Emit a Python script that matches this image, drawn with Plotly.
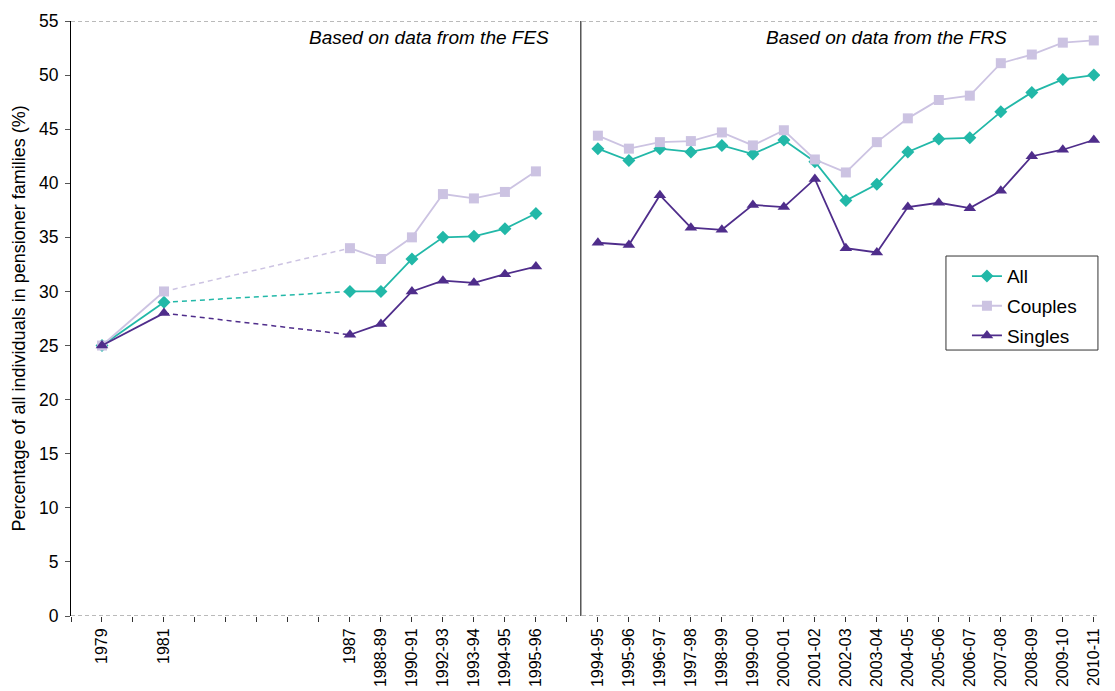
import plotly.graph_objects as go

# axis slots (blank = unlabelled slot)
x_ticks = ["", "1979", "", "1981", "", "", "", "", "", "1987", "1988-89", "1990-91",
           "1992-93", "1993-94", "1994-95", "1995-96", "",
           "1994-95", "1995-96", "1996-97", "1997-98", "1998-99", "1999-00", "2000-01",
           "2001-02", "2002-03", "2003-04", "2004-05", "2005-06", "2006-07", "2007-08",
           "2008-09", "2009-10", "2010-11"]

# FES based figures
fes_periods = ["1979", "1981", "1987", "1988-89", "1990-91", "1992-93", "1993-94", "1994-95", "1995-96"]
fes_all = [25.0, 29.0, 30.0, 30.0, 33.0, 35.0, 35.1, 35.8, 37.2]
fes_couples = [25.0, 30.0, 34.0, 33.0, 35.0, 39.0, 38.6, 39.2, 41.1]
fes_singles = [25.0, 28.0, 26.0, 27.0, 30.0, 31.0, 30.8, 31.6, 32.3]

# FRS based figures
frs_periods = ["1994-95", "1995-96", "1996-97", "1997-98", "1998-99", "1999-00", "2000-01",
               "2001-02", "2002-03", "2003-04", "2004-05", "2005-06", "2006-07", "2007-08",
               "2008-09", "2009-10", "2010-11"]
frs_all = [43.2, 42.1, 43.2, 42.9, 43.5, 42.7, 44.0, 42.0, 38.4, 39.9, 42.9, 44.1, 44.2, 46.6,
           48.4, 49.6, 50.0]
frs_couples = [44.4, 43.2, 43.8, 43.9, 44.7, 43.5, 44.9, 42.2, 41.0, 43.8, 46.0, 47.7, 48.1, 51.1,
               51.9, 53.0, 53.2]
frs_singles = [34.5, 34.3, 38.9, 35.9, 35.7, 38.0, 37.8, 40.4, 34.0, 33.6, 37.8, 38.2, 37.7, 39.3,
               42.5, 43.1, 44.0]

series = [
    ("All", fes_all, frs_all, "#22B8A8", "diamond", 10),
    ("Couples", fes_couples, frs_couples, "#CCC3E2", "square", 10),
    ("Singles", fes_singles, frs_singles, "#4F2D8B", "triangle-up", 11),
]

fes_x = [x_ticks.index(p) for p in fes_periods]
frs_x = [len(x_ticks) - 1 - x_ticks[::-1].index(p) for p in frs_periods]
split = (fes_x[-1] + frs_x[0]) / 2 + 0.45
gap_i = fes_periods.index("1981")
gap_j = fes_periods.index("1987")

fig = go.Figure()
for name, fes, frs, col, sym, ms in series:
    mk = dict(symbol=sym, size=ms, color=col)
    # dashed link over the gap years
    fig.add_trace(go.Scatter(x=[fes_x[gap_i], fes_x[gap_j]], y=[fes[gap_i], fes[gap_j]],
                             mode="lines", line=dict(color=col, width=1.5, dash="5px,4px"),
                             showlegend=False, hoverinfo="skip"))
    fig.add_trace(go.Scatter(x=fes_x[:gap_i + 1], y=fes[:gap_i + 1], mode="lines+markers",
                             line=dict(color=col, width=1.8), marker=mk, showlegend=False))
    fig.add_trace(go.Scatter(x=fes_x[gap_j:], y=fes[gap_j:], mode="lines+markers",
                             line=dict(color=col, width=1.8), marker=mk, showlegend=False))
    fig.add_trace(go.Scatter(x=frs_x, y=frs, mode="lines+markers", name=name, legendgroup=name,
                             line=dict(color=col, width=1.8), marker=mk))

fig.add_shape(type="line", xref="x", yref="y", x0=split, x1=split, y0=0, y1=55,
              line=dict(color="black", width=1))
for yv in [0, 55]:
    fig.add_shape(type="line", xref="paper", yref="y", x0=0, x1=1, y0=yv, y1=yv,
                  line=dict(color="#777777", width=1.2, dash="4px,3px"))
# legend frame
fig.add_shape(type="rect", xref="paper", yref="paper", x0=0.8503, x1=0.998, y0=0.447, y1=0.605,
              line=dict(color="#333333", width=1), fillcolor="rgba(0,0,0,0)")

fig.add_annotation(x=split - 0.95, y=54.6, xref="x", yref="y", xanchor="right", yanchor="top",
                   text="<i>Based on data from the FES</i>", showarrow=False,
                   font=dict(size=19, color="black"))
fig.add_annotation(x=frs_x[-4] + 0.25, y=54.6, xref="x", yref="y", xanchor="right", yanchor="top",
                   text="<i>Based on data from the FRS</i>", showarrow=False,
                   font=dict(size=19, color="black"))
fig.add_annotation(x=0, y=0.5, xref="paper", yref="paper", xshift=-53, xanchor="center",
                   yanchor="middle", textangle=-90,
                   text="Percentage of all individuals in pensioner families (%)",
                   showarrow=False, font=dict(size=18, color="black"))

fig.update_layout(
    width=1115, height=691,
    margin=dict(l=71, r=15, t=21, b=75),
    paper_bgcolor="white", plot_bgcolor="white",
    font=dict(family="Liberation Sans, Arial", color="black"),
    showlegend=True,
    legend=dict(x=0.8707, xanchor="left", y=0.603, yanchor="top",
                borderwidth=0, bgcolor="rgba(0,0,0,0)",
                font=dict(size=19), itemwidth=30, tracegroupgap=2),
    xaxis=dict(range=[0, 33.2], tickmode="array", tickvals=list(range(len(x_ticks))),
               ticktext=x_ticks, tickangle=-90, ticks="outside", ticklen=5,
               tickcolor="#333333", showgrid=False, zeroline=False, showline=False,
               tickfont=dict(size=16), automargin=False),
    yaxis=dict(range=[0, 55], dtick=5, ticks="outside", ticklen=5, tickcolor="#555555",
               showline=True, linecolor="black", linewidth=1, showgrid=False, zeroline=False,
               tickfont=dict(size=17.5), ticklabelstandoff=3, automargin=False),
)

fig.write_html("out.html", config={"displayModeBar": False},
               post_script="document.body.style.margin='0px';")
